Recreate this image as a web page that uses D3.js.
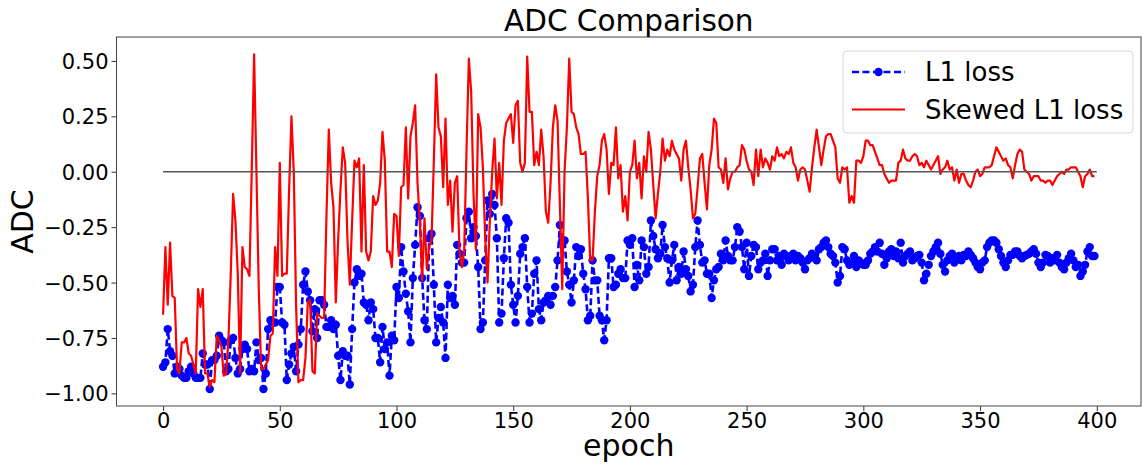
<!DOCTYPE html>
<html>
<head>
<meta charset="utf-8">
<script src="https://cdn.jsdelivr.net/npm/d3@7"></script>
<style>
  body { margin: 0; background: #fff; }
  svg { display: block; font-family: "DejaVu Sans", sans-serif; }
</style>
</head>
<body>
<div id="chart"></div>
<script>
// ADC per epoch
const l1Loss = [
  -0.88, -0.86, -0.71, -0.81, -0.83, -0.91, -0.88, -0.89, -0.92, -0.93,
  -0.93, -0.90, -0.88, -0.91, -0.93, -0.93, -0.93, -0.82, -0.87, -0.87,
  -0.98, -0.85, -0.85, -0.83, -0.74, -0.76, -0.77, -0.90, -0.89, -0.76,
  -0.75, -0.84, -0.91, -0.89, -0.80, -0.78, -0.80, -0.90, -0.89, -0.90,
  -0.77, -0.85, -0.84, -0.98, -0.91, -0.71, -0.67, -0.68, -0.68, -0.52,
  -0.52, -0.68, -0.69, -0.94, -0.87, -0.82, -0.79, -0.90, -0.78, -0.71,
  -0.51, -0.45, -0.54, -0.58, -0.72, -0.62, -0.75, -0.58, -0.58, -0.60,
  -0.70, -0.70, -0.67, -0.71, -0.69, -0.83, -0.94, -0.81, -0.83, -0.83,
  -0.96, -0.71, -0.50, -0.44, -0.47, -0.46, -0.59, -0.60, -0.67, -0.59,
  -0.62, -0.75, -0.75, -0.86, -0.70, -0.80, -0.77, -0.92, -0.74, -0.76,
  -0.52, -0.57, -0.34, -0.45, -0.55, -0.63, -0.77, -0.48, -0.33, -0.16,
  -0.20, -0.48, -0.67, -0.71, -0.30, -0.28, -0.51, -0.77, -0.66, -0.61,
  -0.68, -0.84, -0.51, -0.57, -0.56, -0.60, -0.33, -0.37, -0.41, -0.41,
  -0.21, -0.18, -0.30, -0.25, -0.29, -0.43, -0.71, -0.68, -0.40, -0.13,
  -0.19, -0.10, -0.15, -0.30, -0.68, -0.64, -0.39, -0.21, -0.23, -0.51,
  -0.60, -0.68, -0.56, -0.37, -0.34, -0.30, -0.52, -0.68, -0.64, -0.46,
  -0.40, -0.62, -0.67, -0.59, -0.58, -0.56, -0.60, -0.56, -0.52, -0.40,
  -0.24, -0.31, -0.31, -0.45, -0.51, -0.59, -0.49, -0.34, -0.38, -0.35,
  -0.46, -0.53, -0.67, -0.65, -0.40, -0.49, -0.49, -0.65, -0.67, -0.76,
  -0.67, -0.39, -0.39, -0.52, -0.51, -0.46, -0.44, -0.48, -0.48, -0.31,
  -0.33, -0.30, -0.52, -0.42, -0.49, -0.31, -0.34, -0.46, -0.43, -0.22,
  -0.29, -0.35, -0.39, -0.37, -0.24, -0.34, -0.39, -0.50, -0.40, -0.33,
  -0.49, -0.43, -0.46, -0.36, -0.44, -0.47, -0.54, -0.51, -0.34, -0.22,
  -0.33, -0.41, -0.40, -0.46, -0.46, -0.57, -0.49, -0.44, -0.43, -0.37,
  -0.40, -0.31, -0.38, -0.40, -0.40, -0.34, -0.25, -0.27, -0.34, -0.44,
  -0.32, -0.47, -0.38, -0.33, -0.34, -0.44, -0.41, -0.40, -0.37, -0.47,
  -0.40, -0.35, -0.35, -0.40, -0.38, -0.42, -0.37, -0.38, -0.40, -0.38,
  -0.37, -0.40, -0.38, -0.39, -0.41, -0.44, -0.40, -0.39, -0.37, -0.38,
  -0.40, -0.35, -0.34, -0.32, -0.31, -0.34, -0.37, -0.38, -0.41, -0.50,
  -0.47, -0.34, -0.35, -0.40, -0.42, -0.41, -0.38, -0.43, -0.40, -0.41,
  -0.42, -0.42, -0.40, -0.37, -0.36, -0.34, -0.36, -0.32, -0.37, -0.42,
  -0.39, -0.36, -0.35, -0.38, -0.36, -0.39, -0.32, -0.41, -0.38, -0.37,
  -0.36, -0.40, -0.39, -0.38, -0.375, -0.41, -0.49, -0.46, -0.42, -0.38,
  -0.36, -0.34, -0.32, -0.37, -0.42, -0.45, -0.40, -0.38, -0.37, -0.41,
  -0.39, -0.38, -0.40, -0.375, -0.38, -0.36, -0.375, -0.39, -0.41, -0.43,
  -0.44, -0.41, -0.40, -0.34, -0.32, -0.31, -0.31, -0.32, -0.35, -0.38,
  -0.41, -0.43, -0.40, -0.375, -0.375, -0.36, -0.36, -0.38, -0.39, -0.38,
  -0.375, -0.37, -0.36, -0.35, -0.37, -0.41, -0.43, -0.41, -0.375, -0.38,
  -0.41, -0.39, -0.40, -0.375, -0.41, -0.43, -0.44, -0.41, -0.39, -0.37,
  -0.40, -0.43, -0.42, -0.47, -0.45, -0.42, -0.36, -0.34, -0.38, -0.38
];

const skewedL1Loss = [
  -0.645, -0.34, -0.60, -0.32, -0.56, -0.57, -0.89, -0.91, -0.77, -0.77,
  -0.75, -0.82, -0.83, -0.87, -0.91, -0.53, -0.61, -0.53, -0.91, -0.91,
  -0.97, -0.94, -0.95, -0.74, -0.76, -0.79, -0.92, -0.91, -0.76, -0.46,
  -0.10, -0.22, -0.46, -0.91, -0.34, -0.43, -0.44, -0.47, 0.01, 0.53,
  0.00, -0.53, -0.89, -0.89, -0.87, -0.85, -0.74, -0.73, -0.34, -0.47,
  0.04, -0.47, -0.46, -0.46, -0.08, 0.25, 0.00, -0.61, -0.95, -0.94,
  -0.94, -0.84, -0.59, -0.58, -0.90, -0.91, -0.64, -0.65, -0.66, -0.66,
  -0.20, 0.19, -0.05, -0.16, -0.59, -0.31, -0.08, 0.11, 0.04, -0.31,
  -0.51, -0.22, 0.05, 0.02, 0.06, -0.36, 0.03, -0.36, -0.40, -0.36,
  -0.11, -0.15, -0.13, -0.05, 0.18, 0.05, -0.36, -0.36, -0.43, -0.19,
  -0.20, -0.38, -0.07, -0.06, 0.20, -0.12, 0.16, 0.22, 0.30, -0.05,
  -0.22, -0.49, -0.21, -0.44, -0.34, -0.31, 0.05, 0.44, 0.20, 0.16,
  -0.07, 0.24, -0.15, -0.04, -0.27, -0.05, -0.02, -0.36, -0.43, -0.36,
  0.10, 0.51, 0.36, -0.10, -0.35, 0.26, 0.20, 0.02, -0.30, -0.50,
  -0.22, 0.00, 0.15, -0.12, 0.04, -0.15, 0.14, 0.22, 0.24, 0.26,
  0.13, 0.30, 0.32, 0.04, 0.00, 0.04, 0.52, 0.27, 0.27, 0.03,
  0.09, 0.03, 0.19, 0.07, -0.18, -0.23, -0.05, 0.20, 0.30, 0.23,
  -0.15, -0.53, 0.00, 0.20, 0.51, 0.27, 0.26, 0.20, 0.17, 0.08,
  0.08, 0.09, -0.12, -0.40, -0.40, -0.18, -0.02, 0.03, 0.14, 0.17,
  0.10, -0.10, 0.04, 0.03, 0.20, -0.03, 0.03, -0.18, -0.11, -0.22,
  0.00, 0.03, 0.14, -0.03, 0.04, -0.12, 0.07, 0.00, 0.18, 0.10,
  -0.06, -0.21, -0.10, 0.00, 0.15, 0.05, 0.10, 0.07, 0.14, 0.10,
  0.08, 0.06, -0.04, 0.10, 0.14, 0.02, -0.08, -0.21, -0.19, -0.07,
  0.06, 0.08, -0.05, -0.17, 0.03, 0.10, 0.24, 0.22, 0.02, 0.01,
  -0.05, 0.06, -0.08, -0.03, 0.00, 0.00, 0.02, 0.03, 0.12, 0.10,
  0.05, 0.01, 0.00, -0.06, 0.10, -0.02, 0.10, 0.02, 0.06, 0.04,
  0.01, 0.07, 0.05, 0.11, 0.07, 0.08, 0.06, 0.09, 0.08, 0.11,
  0.04, 0.02, -0.04, 0.01, 0.02, 0.01, -0.04, -0.09, 0.02, 0.11,
  0.19, 0.11, 0.03, 0.10, 0.16, 0.17, 0.17, 0.14, 0.11, -0.03,
  -0.05, 0.02, 0.01, 0.02, -0.14, -0.11, -0.14, 0.05, 0.05, 0.04,
  0.07, 0.14, 0.14, 0.12, 0.12, 0.09, 0.06, 0.03, 0.03, -0.01,
  -0.03, -0.05, -0.04, -0.04, -0.04, 0.04, 0.05, 0.10, 0.06, 0.05,
  0.05, 0.07, 0.08, 0.07, 0.03, 0.04, 0.02, 0.05, 0.03, 0.01,
  0.03, 0.05, 0.07, -0.01, 0.01, 0.02, 0.05, 0.01, 0.02, -0.04,
  0.01, -0.05, -0.01, -0.01, -0.04, -0.06, -0.07, -0.04, 0.00, 0.01,
  -0.02, -0.01, 0.02, 0.02, 0.02, 0.03, 0.07, 0.11, 0.09, 0.07,
  0.05, 0.06, 0.03, 0.02, -0.03, 0.03, 0.08, 0.10, 0.09, 0.01,
  0.00, -0.01, -0.04, -0.02, -0.02, -0.02, -0.04, -0.04, -0.05, -0.04,
  -0.04, -0.06, -0.04, -0.02, -0.01, 0.00, -0.01, 0.01, 0.01, 0.02,
  0.02, 0.02, 0.00, -0.02, -0.07, -0.02, -0.01, 0.01, -0.02, -0.02
];

const epochs = d3.range(l1Loss.length);
const xTicks = [0, 50, 100, 150, 200, 250, 300, 350, 400];
const yTicks = [-1.0, -0.75, -0.5, -0.25, 0.0, 0.25, 0.5];
const zeroLine = [0, 400];
const legendItems = [
  { key: 'l1', label: 'L1 loss' },
  { key: 'skewed', label: 'Skewed L1 loss' }
];

const width = 1143, height = 465;
const margin = { top: 37, right: 2, bottom: 59, left: 116.5 };

const svg = d3.select('#chart').append('svg')
  .attr('width', width)
  .attr('height', height);

// scales - matplotlib style 5% padding around the data
const x = d3.scaleLinear()
  .domain([-19.95, 418.95])
  .range([margin.left, width - margin.right]);
const y = d3.scaleLinear()
  .domain([-1.057, 0.608])
  .range([height - margin.bottom, margin.top]);

const fmtY = v => d3.format('.2f')(v).replace('-', '\u2212');

// axes
const xAxis = svg.append('g')
  .attr('transform', `translate(0, ${height - margin.bottom})`)
  .call(d3.axisBottom(x).tickValues(xTicks).tickSize(5).tickPadding(2).tickFormat(d3.format('d')));
const yAxis = svg.append('g')
  .attr('transform', `translate(${margin.left}, 0)`)
  .call(d3.axisLeft(y).tickValues(yTicks).tickSize(5).tickPadding(3).tickFormat(fmtY));

[xAxis, yAxis].forEach(a => {
  a.select('.domain').remove();
  a.selectAll('.tick line').attr('stroke', '#333').attr('stroke-width', 1);
  a.selectAll('.tick text')
    .attr('fill', '#000')
    .style('font-family', '"DejaVu Sans", sans-serif')
    .style('font-size', '21px');
});
yAxis.selectAll('.tick text').attr('dy', '0.36em');

// plot frame
svg.append('rect')
  .attr('x', margin.left)
  .attr('y', margin.top)
  .attr('width', width - margin.right - margin.left)
  .attr('height', height - margin.bottom - margin.top)
  .attr('fill', 'none')
  .attr('stroke', '#444')
  .attr('stroke-width', 1);

svg.append('defs').append('clipPath').attr('id', 'plot-clip')
  .append('rect')
  .attr('x', margin.left)
  .attr('y', margin.top)
  .attr('width', width - margin.right - margin.left)
  .attr('height', height - margin.bottom - margin.top);

const plot = svg.append('g').attr('clip-path', 'url(#plot-clip)');

// L1 loss: dashed line with round markers
const line = d3.line().x((d, i) => x(epochs[i])).y(d => y(d));

plot.append('path')
  .datum(l1Loss)
  .attr('fill', 'none')
  .attr('stroke', '#0000ff')
  .attr('stroke-width', 2.6)
  .attr('stroke-dasharray', '7,3.5')
  .attr('d', line);

plot.append('g')
  .selectAll('circle')
  .data(l1Loss)
  .enter()
  .append('circle')
  .attr('cx', (d, i) => x(epochs[i]))
  .attr('cy', d => y(d))
  .attr('r', 4.2)
  .attr('fill', '#0000ff');

// Skewed L1 loss
plot.append('path')
  .datum(skewedL1Loss)
  .attr('fill', 'none')
  .attr('stroke', '#ff0000')
  .attr('stroke-width', 2.2)
  .attr('stroke-linejoin', 'round')
  .attr('d', line);

// zero reference line
plot.append('line')
  .attr('x1', x(zeroLine[0]))
  .attr('x2', x(zeroLine[1]))
  .attr('y1', y(0))
  .attr('y2', y(0))
  .attr('stroke', '#555')
  .attr('stroke-width', 1.6);

// title and labels
svg.append('text')
  .attr('x', (margin.left + width - margin.right) / 2)
  .attr('y', 31)
  .attr('text-anchor', 'middle')
  .style('font-size', '29.5px')
  .text('ADC Comparison');

svg.append('text')
  .attr('x', (margin.left + width - margin.right) / 2)
  .attr('y', 456)
  .attr('text-anchor', 'middle')
  .style('font-size', '30px')
  .text('epoch');

svg.append('text')
  .attr('transform', `translate(33, ${(margin.top + height - margin.bottom) / 2}) rotate(-90)`)
  .attr('text-anchor', 'middle')
  .style('font-size', '30px')
  .text('ADC');

// legend
const legend = svg.append('g').attr('transform', 'translate(843, 51)');

legend.append('rect')
  .attr('width', 290)
  .attr('height', 82)
  .attr('rx', 4)
  .attr('fill', 'rgba(255,255,255,0.8)')
  .attr('stroke', '#d6d6d6')
  .attr('stroke-width', 1);

legendItems.forEach((item, i) => {
  const row = legend.append('g').attr('transform', `translate(0, ${21 + i * 37.5})`);
  row.append('line')
    .attr('x1', 9)
    .attr('x2', 62)
    .attr('stroke', item.key === 'l1' ? '#0000ff' : '#ff0000')
    .attr('stroke-width', item.key === 'l1' ? 2.6 : 2.2)
    .attr('stroke-dasharray', item.key === 'l1' ? '7,3.5' : null);
  if (item.key === 'l1') {
    row.append('circle').attr('cx', 35.5).attr('r', 4.2).attr('fill', '#0000ff');
  }
  row.append('text')
    .attr('x', 82)
    .attr('dy', '0.36em')
    .style('font-size', '26px')
    .text(item.label);
});
</script>
</body>
</html>
